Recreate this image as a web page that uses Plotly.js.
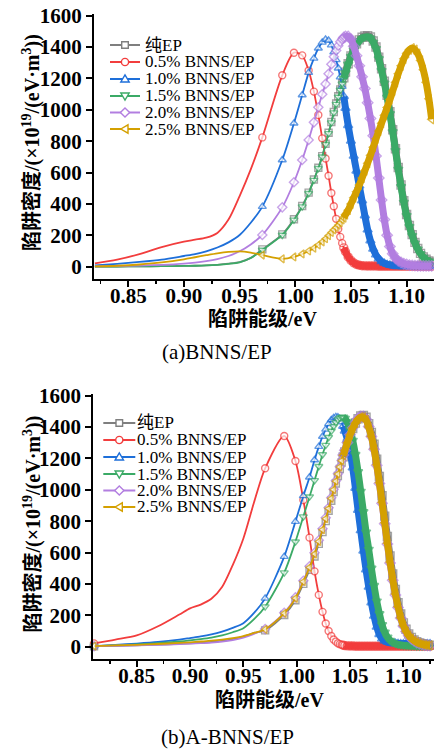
<!DOCTYPE html>
<html><head><meta charset="utf-8">
<script src="https://cdn.plot.ly/plotly-3.0.1.min.js"></script>
<style>html,body{margin:0;padding:0;background:#fff;}#chart{width:434px;height:751px;}</style>
</head><body><div id="chart"></div>
<script>
const seriesNames = ['纯EP','0.5% BNNS/EP','1.0% BNNS/EP','1.5% BNNS/EP','2.0% BNNS/EP','2.5% BNNS/EP'];

// (a) BNNS/EP : trap energy (eV)
const topEnergy = [0.820,0.840,0.860,0.880,0.900,0.910,0.920,0.930,0.940,0.950,0.960,
 0.9704,0.9883,0.9988,1.0062,1.0120,1.0167,1.0207,1.0242,1.0272,1.0299,1.0324,1.0346,1.0367,1.0386,1.0404,1.0421,1.0436,1.0451,
 1.0475,1.0500,1.0525,1.0550,1.0575,1.0600,1.0625,1.0650,1.0675,1.0700,1.0725,1.0750,1.0775,1.0800,1.0825,1.0850,1.0875,1.0900,1.0925,1.0950,1.0975,1.1000,1.1025,1.1050,1.1075,1.1100,1.1125,1.1150,1.1175,1.1200,1.1225];
const topEP = [0,1,2,3,5,6,8,12,19,29,56,
 110,206,302,387,472,556,631,705,784,854,922,986,1040,1086,1130,1170,1204,1240,
 1294,1344,1385,1420,1446,1462,1471,1473,1464,1439,1400,1336,1262,1182,1093,988,873,752,632,521,420,333,262,204,155,116,85,62,47,36,29];
const topB05 = [21,45,80,125,160,172,185,215,300,450,620,
 824,1220,1364,1347,1250,1116,967,818,690,580,470,385,305,240,190,150,120,95,
 62,40,24,14,9,6,5,4,4,4,4,3,3,3,3,3,3,3,3,3,3,3,3,3,3,3,3,3,3,3,3];
const topB10 = [8,18,30,45,68,80,98,122,155,202,280,
 383,680,914,1094,1237,1328,1392,1430,1448,1442,1412,1368,1318,1265,1208,1148,1085,1010,
 900,800,705,610,515,420,325,235,165,112,75,50,33,22,15,11,8,6,5,4,4,4,4,4,4,4,4,4,4,4,4];
const topB15 = [0,1,2,3,5,6,8,12,18,28,55,
 106,202,298,383,468,552,627,701,780,850,918,982,1036,1082,1126,1166,1200,1236,
 1290,1340,1380,1415,1440,1455,1464,1466,1456,1430,1390,1325,1250,1170,1080,975,860,740,620,510,410,325,255,198,150,112,82,60,45,35,28];
const topB20 = [2,4,7,12,20,26,35,48,68,98,142,
 202,378,538,680,808,920,1016,1099,1165,1230,1290,1338,1378,1408,1433,1450,1461,1467,
 1468,1450,1405,1345,1280,1210,1135,1045,945,835,705,565,425,300,200,128,82,54,37,27,19,14,10,8,7,6,5,5,5,5,5];
const topB25 = [2,6,14,27,47,60,73,85,94,98,90,
 74,50,62,81,100,118,138,158,178,198,218,235,250,265,280,298,313,332,
 360,400,440,478,520,565,612,660,710,762,815,865,915,965,1015,1065,1120,1175,1230,1280,1325,1360,1383,1392,1383,1358,1315,1255,1175,1070,940];

// (b) A-BNNS/EP : trap energy (eV)
const botEnergy = [0.810,0.830,0.850,0.870,0.890,0.900,0.910,0.920,0.930,0.940,0.950,0.960,
 0.9704,0.9883,0.9988,1.0062,1.0120,1.0167,1.0207,1.0242,1.0272,1.0299,1.0324,1.0346,1.0367,1.0386,1.0404,1.0421,1.0436,1.0451,
 1.0475,1.0500,1.0525,1.0550,1.0575,1.0600,1.0625,1.0650,1.0675,1.0700,1.0725,1.0750,1.0775,1.0800,1.0825,1.0850,1.0875,1.0900,1.0925,1.0950,1.0975,1.1000,1.1025,1.1050,1.1075,1.1100,1.1125,1.1150,1.1175,1.1200,1.1225,1.1250];
const botEP = [3,6,9,13,18,21,25,30,37,48,64,88,
 104,202,296,400,490,575,655,730,800,866,930,986,1040,1088,1133,1174,1210,1242,
 1292,1344,1390,1426,1453,1470,1474,1462,1422,1366,1290,1195,1085,962,832,702,578,464,365,280,208,152,111,81,59,43,32,24,18,14,11,9];
const botB05 = [21,45,72,130,205,244,268,305,380,520,690,920,
 1137,1343,1184,935,695,480,330,222,148,100,68,46,32,22,16,12,9,7,
 5,4,4,3,3,3,3,3,3,3,3,3,3,3,3,3,3,3,3,3,3,3,3,3,3,3,3,3,3,3,3,3];
const botB10 = [4,12,20,30,45,55,65,78,96,120,150,215,
 308,574,797,961,1080,1190,1275,1340,1385,1420,1445,1458,1465,1463,1452,1432,1405,1375,
 1320,1240,1140,1010,870,740,610,490,380,280,195,125,78,50,36,29,25,23,22,21,20,20,20,20,20,20,20,20,20,20,19,19];
const botB15 = [3,8,14,22,33,40,48,58,72,92,118,175,
 255,472,669,829,956,1060,1150,1225,1285,1335,1375,1405,1430,1447,1458,1463,1462,1455,
 1432,1385,1315,1225,1115,990,860,730,620,500,390,290,210,140,92,60,40,27,19,14,11,9,7,6,5,5,4,4,4,4,4,4];
const botB20 = [3,6,9,12,16,19,22,26,32,42,58,82,
 112,216,314,420,512,598,678,752,822,886,950,1004,1058,1103,1147,1187,1222,1252,
 1302,1352,1395,1430,1455,1468,1468,1450,1403,1340,1258,1156,1040,914,784,654,534,424,330,250,182,132,96,70,50,37,27,20,15,11,9,7];
const botB25 = [4,8,12,17,24,28,33,38,45,55,68,88,
 110,212,308,414,505,590,670,745,815,880,945,1000,1055,1100,1145,1185,1220,1250,
 1300,1350,1392,1425,1450,1463,1462,1445,1400,1340,1260,1160,1045,920,790,660,540,430,335,255,185,135,98,72,52,38,28,21,16,12,10,8];

const topSeries = [topEP, topB05, topB10, topB15, topB20, topB25];
const botSeries = [botEP, botB05, botB10, botB15, botB20, botB25];

// ---------- styles ----------
const colors = ['#7F7F7F','#F23D3D','#1E6FD9','#3BAA66','#B27EE0','#D4A000'];
const symbols = ['square','circle','triangle-up','triangle-down','diamond','triangle-left'];
const W = 434, H = 751;
const markerFrom = 0.97, denseFrom = 1.043;

[...topSeries].forEach(s => { if (s.length !== topEnergy.length) throw new Error('top length ' + s.length); });
[...botSeries].forEach(s => { if (s.length !== botEnergy.length) throw new Error('bot length ' + s.length); });

const traces = [];
function addChart(xs, series, xa, ya, firstMarker) {
  series.forEach((ys, i) => {
    traces.push({x: xs, y: ys, xaxis: xa, yaxis: ya, mode: 'lines', hoverinfo: 'skip',
      line: {color: colors[i], width: 1.8, shape: 'spline', smoothing: 0.8}});
    const bx = [], by = [];
    xs.forEach((x, k) => { if (x >= denseFrom) { bx.push(x); by.push(ys[k]); } });
    traces.push({x: bx, y: by, xaxis: xa, yaxis: ya, mode: 'lines', hoverinfo: 'skip',
      line: {color: colors[i], width: 7, shape: 'spline', smoothing: 0.8}});
    const mx = [], my = [], mc = [], ms = [];
    xs.forEach((x, k) => {
      if (x >= markerFrom || (firstMarker && k === 0)) {
        const dense = x >= denseFrom;
        mx.push(x); my.push(ys[k]); mc.push(dense ? 'rgba(255,255,255,0)' : '#ffffff'); ms.push(dense ? 8 : 7);
      }
    });
    traces.push({x: mx, y: my, xaxis: xa, yaxis: ya, mode: 'markers', hoverinfo: 'skip', cliponaxis: false,
      marker: {symbol: symbols[i], size: ms, color: mc, line: {color: colors[i], width: 1.4}}});
  });
}
addChart(topEnergy, topSeries, 'x', 'y', false);
addChart(botEnergy, botSeries, 'x2', 'y2', true);

const tickFont = {family: 'Liberation Serif, serif', size: 21, color: '#000', weight: 'bold'};
function xAxis(domain, range, anchor) {
  return {domain, range, anchor, showline: true, linewidth: 2, linecolor: '#000', ticks: 'outside', ticklen: 6, tickwidth: 2,
    tickcolor: '#000', tick0: 0.85, dtick: 0.05, tickformat: '.2f', showgrid: false, zeroline: false, tickfont: tickFont,
    ticklabelstandoff: -9,
    minor: {dtick: 0.025, ticks: 'outside', ticklen: 3, tickwidth: 1.5, tickcolor: '#000', showgrid: false}, fixedrange: true};
}
function yAxis(domain, anchor) {
  return {domain, range: [-80, 1612], anchor, showline: true, linewidth: 2, linecolor: '#000', ticks: 'outside', ticklen: 6,
    tickwidth: 2, tickcolor: '#000', tick0: 0, dtick: 200, showgrid: false, zeroline: false, tickfont: tickFont, fixedrange: true};
}

const serifCJK = 'Liberation Serif, Noto Sans CJK SC, serif';
const annotations = [];
const shapes = [];
function px(x) { return x / W; }
function py(y) { return (H - y) / H; }
function ann(x, y, text, size, bold, extra) {
  annotations.push(Object.assign({xref: 'paper', yref: 'paper', x: px(x), y: py(y), text, showarrow: false,
    xanchor: 'center', yanchor: 'middle',
    font: {family: serifCJK, size, color: '#000', weight: bold ? 'bold' : 'normal'}}, extra || {}));
}
const yTitle = '陷阱密度/(×10<sup>19</sup>/(eV·m<sup>3</sup>))';
const xTitle = '陷阱能级/eV';
ann(31.5, 142.5, yTitle, 20, true, {textangle: -90});
ann(31.5, 524, yTitle, 20, true, {textangle: -90});
ann(262, 319, xTitle, 20, true);
ann(269, 700, xTitle, 20, true);
ann(217, 352, '(a)BNNS/EP', 21, false);
ann(227, 737, '(b)A-BNNS/EP', 21, false);

const symPaths = {
  'triangle-up': 'M-4.2,-3 L4.2,-3 L0,4.2 Z',
  'triangle-down': 'M-4.2,3 L4.2,3 L0,-4.2 Z',
  'diamond': 'M0,4.6 L4.6,0 L0,-4.6 L-4.6,0 Z',
  'triangle-left': 'M-4.2,0 L3,4.2 L3,-4.2 Z'
};
function legend(cx, half, tx, rows) {
  rows.forEach((ry, i) => {
    const base = {xref: 'paper', yref: 'paper', xsizemode: 'pixel', ysizemode: 'pixel', xanchor: px(cx), yanchor: py(ry)};
    shapes.push(Object.assign({type: 'line', x0: -half, x1: half, y0: 0, y1: 0, line: {color: colors[i], width: 2}}, base));
    const sym = symbols[i];
    const st = {fillcolor: '#ffffff', line: {color: colors[i], width: 1.4}};
    if (sym === 'square') shapes.push(Object.assign({type: 'rect', x0: -3.3, x1: 3.3, y0: -3.3, y1: 3.3}, base, st));
    else if (sym === 'circle') shapes.push(Object.assign({type: 'circle', x0: -3.6, x1: 3.6, y0: -3.6, y1: 3.6}, base, st));
    else shapes.push(Object.assign({type: 'path', path: symPaths[sym]}, base, st));
    ann(tx, ry, seriesNames[i], 17, false, {xanchor: 'left', yanchor: 'middle'});
  });
}
legend(125, 15, 143, [45, 62, 79, 96, 112.5, 129]);
legend(119.3, 16, 135, [423, 440, 457, 474, 490.5, 507]);

const layout = {
  width: W, height: H, margin: {l: 0, r: 0, t: 0, b: 0}, paper_bgcolor: '#fff', plot_bgcolor: '#fff', showlegend: false,
  xaxis: xAxis([94 / W, 1], [0.8192, 1.1246], 'y'),
  yaxis: yAxis([0.6282, 0.98164], 'x'),
  xaxis2: xAxis([93.3 / W, 1], [0.8093, 1.1287], 'y2'),
  yaxis2: yAxis([0.12221, 0.47565], 'x2'),
  annotations, shapes
};
Plotly.newPlot('chart', traces, layout, {staticPlot: true, displayModeBar: false});
</script></body></html>
